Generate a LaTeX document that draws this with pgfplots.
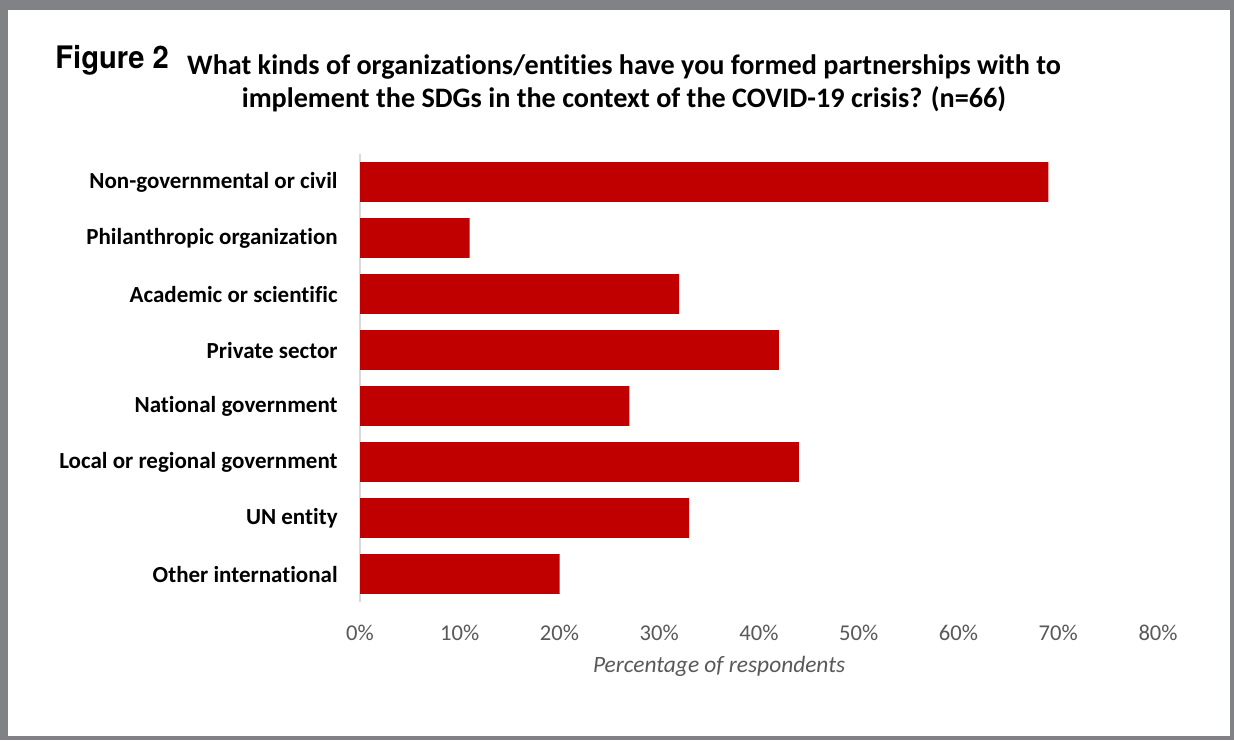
\documentclass[border=0pt]{standalone}
\usepackage{fontspec}
\setmainfont{Carlito}[Ligatures=NoCommon]
\newfontfamily\figfont{TeX Gyre Heros}[FakeStretch=0.94]
\usepackage{pgfplots}
\pgfplotsset{compat=1.18}
\definecolor{barred}{HTML}{C00000}
\definecolor{framegray}{HTML}{818285}
\definecolor{ticktext}{HTML}{595959}
\definecolor{axisgray}{HTML}{D9D9D9}

\begin{document}
\begin{tikzpicture}
% frame and headings (1 unit = 0.5bp, y downwards)
\begin{scope}[x=0.5bp,y=-0.5bp]
  \fill[framegray] (0,0) rectangle (1234,740);
  \fill[white] (8,10) rectangle (1230,736);
  \node[anchor=base west, inner sep=0pt,
        font=\figfont\bfseries\fontsize{15.5bp}{17bp}\selectfont] at (55,68) {Figure 2};
  \node[anchor=base, inner sep=0pt, font=\bfseries\fontsize{14.1bp}{16bp}\selectfont]
    at (624,74) {What kinds of organizations/entities have you formed partnerships with to};
  \node[anchor=base, inner sep=0pt, font=\bfseries\fontsize{14.1bp}{16bp}\selectfont]
    at (624,107) {implement the SDGs in the context of the COVID-19 crisis? (n=66)};
\end{scope}

\begin{axis}[
  at={(180bp,-301bp)}, anchor=south west,
  scale only axis, width=399bp, height=224bp,
  xmin=0, xmax=80, ymin=-0.5, ymax=7.5, y dir=reverse,
  axis x line*=bottom, axis y line*=left,
  x axis line style={draw=none},
  y axis line style={draw=axisgray, line width=0.8bp, -},
  tick style={draw=none}, major tick length=0pt,
  xtick={0,10,...,80},
  xticklabels={0\%,10\%,20\%,30\%,40\%,50\%,60\%,70\%,80\%},
  ytick={0,...,7},
  yticklabels={Non-governmental or civil, Philanthropic organization,
    Academic or scientific, Private sector, National government,
    Local or regional government, UN entity, Other international},
  xticklabel style={font=\fontsize{11.3bp}{13bp}\selectfont, text=ticktext,
    anchor=base, inner sep=0pt, yshift=-19bp},
  yticklabel style={font=\bfseries\fontsize{11.5bp}{13bp}\selectfont, text=black,
    anchor=east, inner sep=0pt, xshift=-11bp},
  xlabel={Percentage of respondents},
  xlabel style={at={(axis description cs:0.45,0)}, anchor=base, inner sep=0pt,
    yshift=-35bp, text=ticktext, font=\itshape\fontsize{11.7bp}{13bp}\selectfont},
  clip=false,
]
\addplot[xbar, bar width=0.71, fill=barred, draw=none]
  coordinates {(69,0) (11,1) (32,2) (42,3) (27,4) (44,5) (33,6) (20,7)};
\end{axis}
\end{tikzpicture}
\end{document}
